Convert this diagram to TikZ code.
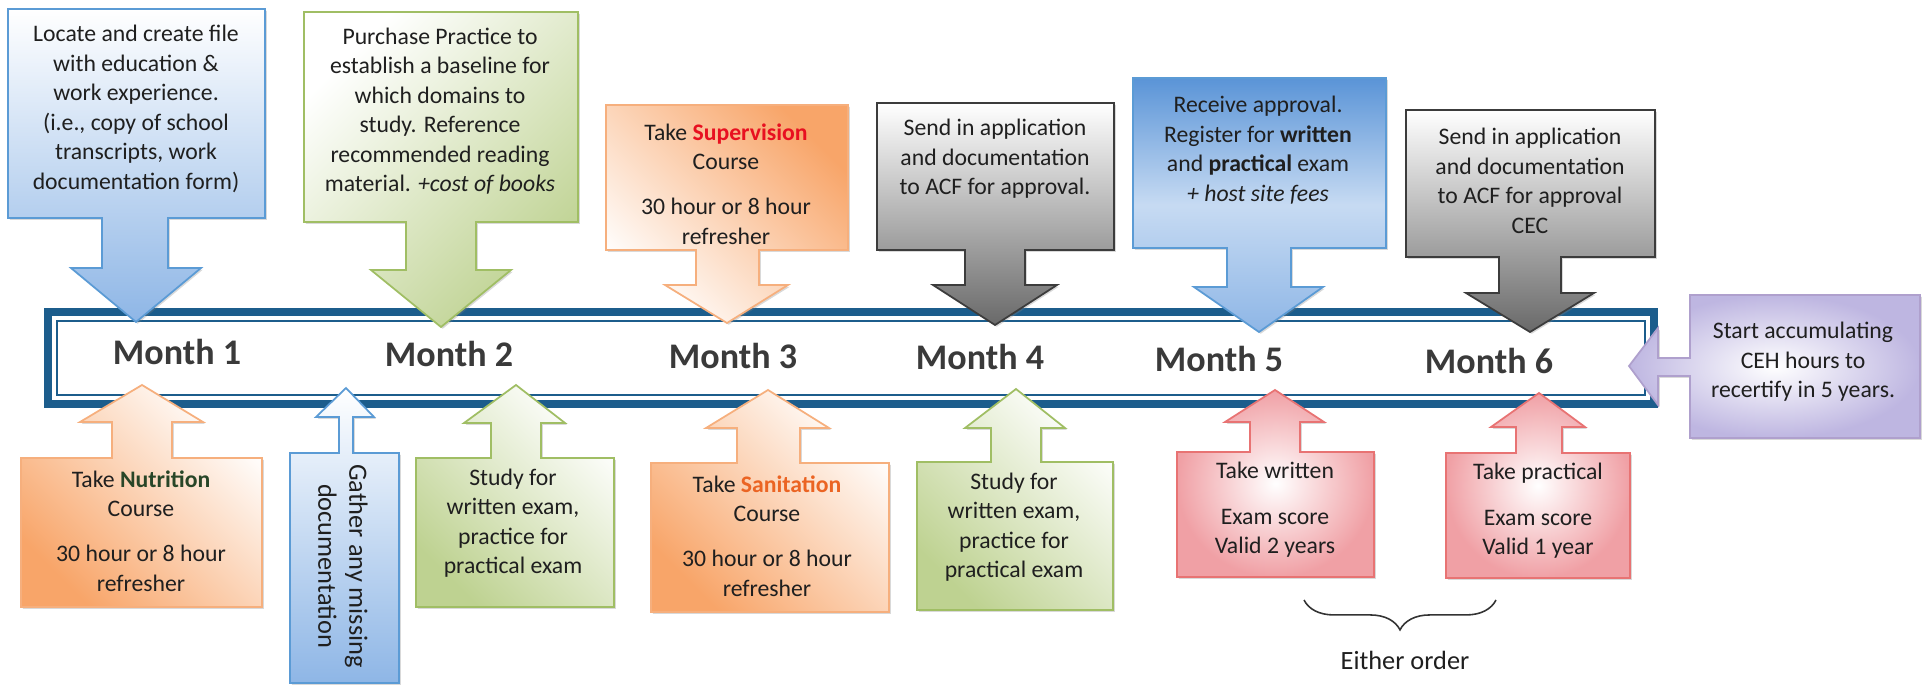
\documentclass[tikz,border=0pt]{standalone}
\usepackage{fontspec}
\setmainfont{Carlito}
\usetikzlibrary{shadows,decorations.pathreplacing}

\definecolor{lineblue}{RGB}{28,93,140}
\definecolor{monthgray}{RGB}{58,58,58}
\definecolor{blueedge}{RGB}{91,155,213}
\definecolor{bluefill}{RGB}{142,182,230}
\definecolor{bluedeep}{RGB}{90,148,215}
\definecolor{greenedge}{RGB}{160,190,100}
\definecolor{greenfill}{RGB}{190,210,145}
\definecolor{orangeedge}{RGB}{246,175,125}
\definecolor{orangefill}{RGB}{248,165,105}
\definecolor{grayedge}{RGB}{60,60,60}
\definecolor{grayfill}{RGB}{105,105,105}
\definecolor{pinkedge}{RGB}{232,115,115}
\definecolor{pinkfill}{RGB}{240,160,165}
\definecolor{purpleedge}{RGB}{175,160,205}
\definecolor{purplefill}{RGB}{190,182,225}
\definecolor{supred}{RGB}{232,16,32}
\definecolor{sanorange}{RGB}{235,100,35}
\definecolor{nutgreen}{RGB}{40,70,40}

\tikzset{
  outline/.style={line width=1pt, line join=miter, drop shadow={shadow xshift=1pt, shadow yshift=-1pt, opacity=.3}},
  bluecall/.style={outline, draw=blueedge, top color=white, bottom color=bluefill},
  deepcall/.style={outline, draw=blueedge, top color=bluedeep, bottom color=bluefill, middle color=white!50!bluefill},
  greencall/.style={outline, draw=greenedge, top color=white, bottom color=greenfill, shading angle=#1},
  orangecall/.style={outline, draw=orangeedge, top color=white, bottom color=orangefill, shading angle=#1},
  graycall/.style={outline, draw=grayedge, top color=white, bottom color=grayfill},
  pinkcall/.style={outline, draw=pinkedge, inner color=white, outer color=pinkfill},
  purplecall/.style={outline, draw=purpleedge, inner color=white, outer color=purplefill},
  txt/.style={align=center, inner sep=0pt, text=black!88, font=\fontsize{13.5}{16.8}\selectfont},
  month/.style={inner sep=0pt, text=monthgray, font=\fontsize{20.5}{24}\selectfont\bfseries},
}

\begin{document}
\begin{tikzpicture}[x=0.02cm, y=-0.02cm]
\useasboundingbox (0,0) rectangle (1927,686);

% timeline frame
\draw [line width=4.5pt, draw=lineblue, fill=white] (48,312) rectangle (1654,404);
\draw [line width=1.4pt, draw=lineblue] (57,321) rectangle (1645,395);

% callouts above the timeline
\draw [bluecall] (8,9) -- (265,9) -- (265,218) -- (168,218) -- (168,268) -- (201,268) -- (136,322) -- (71,268) -- (102,268) -- (102,218) -- (8,218) -- cycle;
\draw [greencall=45] (304,12) -- (578,12) -- (578,222) -- (476,222) -- (476,270) -- (511,270) -- (441,327) -- (371,270) -- (406,270) -- (406,222) -- (304,222) -- cycle;
\draw [orangecall=135] (606,105) -- (848,105) -- (848,250) -- (759,250) -- (759,285) -- (788,285) -- (727,323) -- (665,285) -- (696,285) -- (696,250) -- (606,250) -- cycle;
\draw [graycall] (877,103) -- (1114,103) -- (1114,250) -- (1025,250) -- (1025,285) -- (1057,285) -- (995,325) -- (933,285) -- (965,285) -- (965,250) -- (877,250) -- cycle;
\draw [deepcall] (1133,78) -- (1386,78) -- (1386,248) -- (1291,248) -- (1291,287) -- (1323,287) -- (1259,332) -- (1194,287) -- (1227,287) -- (1227,248) -- (1133,248) -- cycle;
\draw [graycall] (1406,110) -- (1655,110) -- (1655,257) -- (1561,257) -- (1561,293) -- (1594,293) -- (1530,332) -- (1466,293) -- (1499,293) -- (1499,257) -- (1406,257) -- cycle;

% callout from the right
\draw [purplecall] (1690,295) -- (1920,295) -- (1920,438) -- (1690,438) -- (1690,376) -- (1658,376) -- (1658,405) -- (1629,366) -- (1658,328) -- (1658,358) -- (1690,358) -- cycle;

% callouts below the timeline
\draw [orangecall=-45] (21,458) -- (112,458) -- (112,422) -- (80,422) -- (142,385) -- (203,422) -- (172,422) -- (172,458) -- (262,458) -- (262,607) -- (21,607) -- cycle;
\draw [bluecall] (290,453) -- (339,453) -- (339,417) -- (316,417) -- (346,388) -- (374,417) -- (353,417) -- (353,453) -- (399,453) -- (399,683) -- (290,683) -- cycle;
\draw [greencall=-45] (416,458) -- (491,458) -- (491,423) -- (464,423) -- (516,385) -- (565,423) -- (541,423) -- (541,458) -- (614,458) -- (614,607) -- (416,607) -- cycle;
\draw [orangecall=-45] (651,463) -- (737,463) -- (737,428) -- (706,428) -- (768,390) -- (829,428) -- (800,428) -- (800,463) -- (889,463) -- (889,612) -- (651,612) -- cycle;
\draw [greencall=-45] (917,462) -- (991,462) -- (991,428) -- (965,428) -- (1016,389) -- (1065,428) -- (1041,428) -- (1041,462) -- (1113,462) -- (1113,610) -- (917,610) -- cycle;
\draw [pinkcall] (1177,452) -- (1250,452) -- (1250,422) -- (1225,422) -- (1275,390) -- (1324,422) -- (1300,422) -- (1300,452) -- (1374,452) -- (1374,577) -- (1177,577) -- cycle;
\draw [pinkcall] (1446,453) -- (1516,453) -- (1516,427) -- (1491,427) -- (1539,393) -- (1585,427) -- (1562,427) -- (1562,453) -- (1630,453) -- (1630,578) -- (1446,578) -- cycle;

% months
\node [month] (m1) at (177,352) {Month 1};
\node [month] (m2) at (449,354) {Month 2};
\node [month] (m3) at (733,356) {Month 3};
\node [month] (m4) at (980,357) {Month 4};
\node [month] (m5) at (1219,359) {Month 5};
\node [month] (m6) at (1489,361) {Month 6};

% texts above
\node [txt] (t1) at (136,109) {Locate and create file\\ with education \&\\ work experience.\\ (i.e., copy of school\\ transcripts, work\\ documentation form)};
\node [txt] (t2) at (440,111) {Purchase Practice to\\ establish a baseline for\\ which domains to\\ study. Reference\\ recommended reading\\ material. \textit{+cost of books}};
\node [txt] (t3) at (726,184) {Take {\color{supred}\bfseries Supervision}\\ Course\\[9pt] 30 hour or 8 hour\\ refresher};
\node [txt] (t4) at (995,159) {Send in application\\ and documentation\\ to ACF for approval.};
\node [txt] (t5) at (1258,150) {Receive approval.\\ Register for \textbf{written}\\ and \textbf{practical} exam\\ \textit{+ host site fees}};
\node [txt] (t6) at (1530,181) {Send in application\\ and documentation\\ to ACF for approval\\ CEC};
\node [txt] (p1) at (1803,362) {Start accumulating\\ CEH hours to\\ recertify in 5 years.};

% texts below
\node [txt] (b1) at (141,531) {Take {\color{nutgreen}\bfseries Nutrition}\\ Course\\[9pt] 30 hour or 8 hour\\ refresher};
\node [txt, rotate=-90, font=\fontsize{15}{17.6}\selectfont] (b2) at (343,566) {Gather any missing\\ documentation};
\node [txt] (b3) at (513,523) {Study for\\ written exam,\\ practice for\\ practical exam};
\node [txt] (b4) at (767,536) {Take {\color{sanorange}\bfseries Sanitation}\\ Course\\[9pt] 30 hour or 8 hour\\ refresher};
\node [txt] (b5) at (1014,527) {Study for\\ written exam,\\ practice for\\ practical exam};
\node [txt] (b6) at (1275,510) {Take written\\[9pt] Exam score\\ Valid 2 years};
\node [txt] (b7) at (1538,511) {Take practical\\[9pt] Exam score\\ Valid 1 year};

% brace
\coordinate (el) at (1304,600);
\coordinate (er) at (1496,600);
\draw [decorate, decoration={brace, mirror, amplitude=17pt}, line width=.9pt, draw=black!80] (el) -- (er);
\node [txt, font=\fontsize{15}{18}\selectfont] (eo) at (1405,660) {Either order};
\end{tikzpicture}
\end{document}
